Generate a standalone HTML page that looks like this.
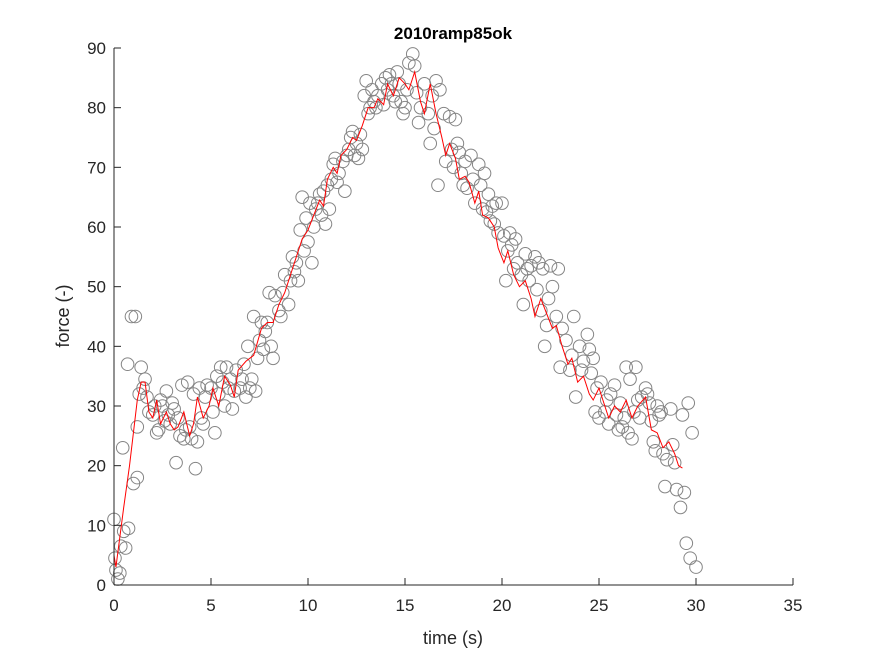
<!DOCTYPE html>
<html><head><meta charset="utf-8"><style>
body{margin:0;background:#fff}
svg text{font-family:"Liberation Sans",Arial,sans-serif}
</style></head><body>
<svg id="chart" width="875" height="656" xmlns="http://www.w3.org/2000/svg">
<rect width="875" height="656" fill="#fff"/>
<text x="453" y="39" text-anchor="middle" font-size="17" font-weight="bold" fill="#000">2010ramp85ok</text>
<g id="points"></g>
<g id="line"></g>
<g id="axes"></g>
<text x="453" y="644" text-anchor="middle" font-size="18" fill="#262626">time (s)</text>
<text transform="translate(69,316) rotate(-90)" text-anchor="middle" font-size="18" fill="#262626">force (-)</text>
</svg>
<script>
const xTicks=[0,5,10,15,20,25,30,35];
const yTicks=[0,10,20,30,40,50,60,70,80,90];
const ptT=[0,0.05,0.1,0.2,0.3,0.35,0.45,0.5,0.6,0.7,0.75,0.9,1.0,1.1,1.2,1.2,1.3,1.4,1.5,1.6,1.7,1.8,2.0,2.1,2.2,2.3,2.4,2.5,2.6,2.7,2.8,2.9,3.0,3.1,3.2,3.3,3.4,3.5,3.6,3.7,3.8,3.9,4.0,4.1,4.2,4.3,4.4,4.5,4.6,4.7,4.8,5.0,5.1,5.2,5.3,5.4,5.5,5.6,5.7,5.8,5.9,6.0,6.1,6.2,6.3,6.5,6.6,6.7,6.8,6.9,7.0,7.1,7.2,7.3,7.4,7.5,7.6,7.7,7.8,7.9,8.0,8.1,8.2,8.3,8.5,8.6,8.7,8.8,9.0,9.1,9.2,9.3,9.4,9.5,9.6,9.7,9.8,9.9,10.0,10.1,10.2,10.3,10.4,10.5,10.6,10.7,10.8,10.9,11.0,11.1,11.2,11.3,11.4,11.5,11.6,11.8,11.9,12.0,12.1,12.2,12.3,12.4,12.5,12.6,12.7,12.8,12.9,13.0,13.1,13.2,13.3,13.4,13.5,13.6,13.8,13.9,14.0,14.1,14.2,14.3,14.4,14.5,14.6,14.7,14.8,14.9,15.0,15.1,15.2,15.4,15.5,15.6,15.7,15.8,16.0,16.2,16.3,16.4,16.5,16.6,16.7,16.8,17.0,17.1,17.3,17.4,17.5,17.6,17.7,17.8,17.9,18.0,18.1,18.2,18.4,18.5,18.6,18.8,18.9,19.0,19.1,19.2,19.3,19.4,19.5,19.6,19.7,19.8,20.0,20.1,20.2,20.3,20.4,20.5,20.6,20.7,20.8,21.0,21.1,21.2,21.3,21.4,21.5,21.7,21.8,21.9,22.0,22.1,22.2,22.3,22.4,22.5,22.6,22.8,22.9,23.0,23.1,23.3,23.5,23.6,23.7,23.8,24.0,24.1,24.2,24.4,24.5,24.6,24.7,24.8,24.9,25.0,25.1,25.3,25.4,25.5,25.6,25.8,25.9,26.0,26.1,26.2,26.3,26.4,26.5,26.6,26.7,26.8,26.9,27.0,27.1,27.2,27.4,27.5,27.6,27.7,27.8,27.9,28.0,28.1,28.2,28.3,28.4,28.5,28.7,28.8,28.9,29.0,29.2,29.3,29.4,29.6,29.5,29.8,29.7,30.0];
const ptF=[11,4.5,2.5,1,2,6.5,23,9,6.2,37,9.5,45,17,45,18,26.5,32,36.5,33,34.5,31.5,29,28.5,30,25.5,26,31,30,27.5,32.5,28.5,27,30.5,29.5,20.5,28,25,33.5,24.5,26,34,26.5,24.5,32,19.5,24,33,28,27,31.5,33.5,33,29,25.5,35,32,36.5,34,30,36.5,33,34.5,29.5,32.5,36,33,34.5,37,31.5,40,33,34.5,45,32.5,38,41,44,39.5,42.5,44,49,40,38,48.5,46,45,49,52,47,51,55,52.5,54,51,59.5,65,56,61.5,57.5,64,54,60,63,64,65.5,62,66,60.5,67,63,68,70.5,71.5,67.5,69,71,66,72,73,75,76,72,74,71.5,75.5,73,82,84.5,79,80,83,81,80,82,84,80.5,85,83,85.5,84,82,81,86,84,81,79,80,83,87.5,89,87,82.5,77.5,80,84,79,74,82,76.5,84.5,67,83,79,71,78.5,73,70,78,74,72.5,69,67,71,66.5,72,68,64,70.5,67,63,69,62.5,65.5,61,63.5,60.5,64,59,64,58.5,51,56,59,57,53,58,54,52,47,55.5,53,51,53.5,55,49.5,54,46,53,40,43.5,48,53.5,50,45,53,36.5,43,41,36,38.5,45,31.5,40,36,37.5,42,39.5,35.5,38,29,33,28,34,29,31,27,32,33.5,28.5,26,30.5,26.5,28,36.5,25.5,34.5,24.5,29,36.5,31,28,31.5,33,32,30.5,27.5,24,22.5,30,28.5,29,22,16.5,21,29.5,23.5,20.5,16,13,28.5,15.5,30.5,7,25.5,4.5,3];
const lineT=[0,0.1,0.5,0.8,1.2,1.4,1.6,1.8,2.0,2.2,2.4,2.7,2.9,3.1,3.3,3.6,3.9,4.1,4.3,4.6,4.9,5.1,5.4,5.7,6.0,6.2,6.4,6.8,7.2,7.6,7.9,8.2,8.5,8.8,9.1,9.4,9.7,10.0,10.3,10.6,10.8,11.0,11.3,11.5,11.7,12.0,12.3,12.5,12.8,13.1,13.4,13.6,13.9,14.1,14.4,14.7,15.0,15.2,15.5,15.8,16.0,16.3,16.6,16.9,17.1,17.3,17.6,17.8,18.1,18.3,18.6,18.8,19.0,19.3,19.6,19.8,20.1,20.3,20.6,20.9,21.2,21.5,21.7,22.0,22.3,22.6,22.8,23.1,23.4,23.6,23.9,24.2,24.5,24.7,25.0,25.3,25.5,25.8,26.1,26.4,26.7,27.0,27.4,27.7,28.0,28.3,28.6,28.9,29.1,29.3];
const lineF=[5,3,13,20,31,34,34,29,28,31,27,29,27,26,26.5,29,25,27,31.5,28,30,33,30,35,33.5,31.5,36,37.5,38.5,43,44,44,47,49,52,55,58,59.5,62,64.5,63.5,68,70,69,72,73,75,74.5,77,80,80,81.5,80.5,84,82,85,84,83,86,81,79,84,79,75,72,74,71.5,68,68.5,67.5,64,66,62,61.5,60,56.5,54,56,52,50,51,48,45,48,45.5,43,43.5,40,37,38,34,35,32,31,33,30,28,30,29,31,28,30,31.5,26,25.5,23,24,22,20,19.6];
const X0=114,X1=793,Y0=585,Y1=48;
const sx=t=>X0+(t-0)/(35-0)*(X1-X0);
const sy=f=>Y0-(f-0)/(90-0)*(Y0-Y1);
const NS="http://www.w3.org/2000/svg";
const pg=document.getElementById('points');
for(let i=0;i<ptT.length;i++){
  const c=document.createElementNS(NS,'circle');
  c.setAttribute('cx',sx(ptT[i]));c.setAttribute('cy',sy(ptF[i]));c.setAttribute('r',6.3);
  c.setAttribute('fill','none');c.setAttribute('stroke','#858585');c.setAttribute('stroke-width','1');
  
  
  pg.appendChild(c);
}
const pl=document.createElementNS(NS,'polyline');
pl.setAttribute('points',lineT.map((t,i)=>sx(t)+','+sy(lineF[i])).join(' '));
pl.setAttribute('fill','none');pl.setAttribute('stroke','#ff0000');pl.setAttribute('stroke-width','1');


document.getElementById('line').appendChild(pl);
const ax=document.getElementById('axes');
let h=`<line x1="${X0}" y1="${Y0}" x2="${X1}" y2="${Y0}" stroke="#262626"/><line x1="${X0}" y1="${Y0}" x2="${X0}" y2="${Y1}" stroke="#262626"/>`;
ax.innerHTML=h;
xTicks.forEach(v=>{
  const l=document.createElementNS(NS,'line');
  l.setAttribute('x1',sx(v));l.setAttribute('x2',sx(v));l.setAttribute('y1',Y0);l.setAttribute('y2',Y0-7);l.setAttribute('stroke','#262626');
  
  
  ax.appendChild(l);
  const t=document.createElementNS(NS,'text');
  t.setAttribute('x',sx(v));t.setAttribute('y',Y0+26);t.setAttribute('text-anchor','middle');t.setAttribute('font-size','17');t.setAttribute('fill','#262626');
  t.textContent=v;
  
  
  ax.appendChild(t);
});
yTicks.forEach(v=>{
  const l=document.createElementNS(NS,'line');
  l.setAttribute('x1',X0);l.setAttribute('x2',X0+7);l.setAttribute('y1',sy(v));l.setAttribute('y2',sy(v));l.setAttribute('stroke','#262626');
  
  
  ax.appendChild(l);
  const t=document.createElementNS(NS,'text');
  t.setAttribute('x',X0-8);t.setAttribute('y',sy(v)+6);t.setAttribute('text-anchor','end');t.setAttribute('font-size','17');t.setAttribute('fill','#262626');
  t.textContent=v;
  
  
  ax.appendChild(t);
});
</script>
</body></html>
